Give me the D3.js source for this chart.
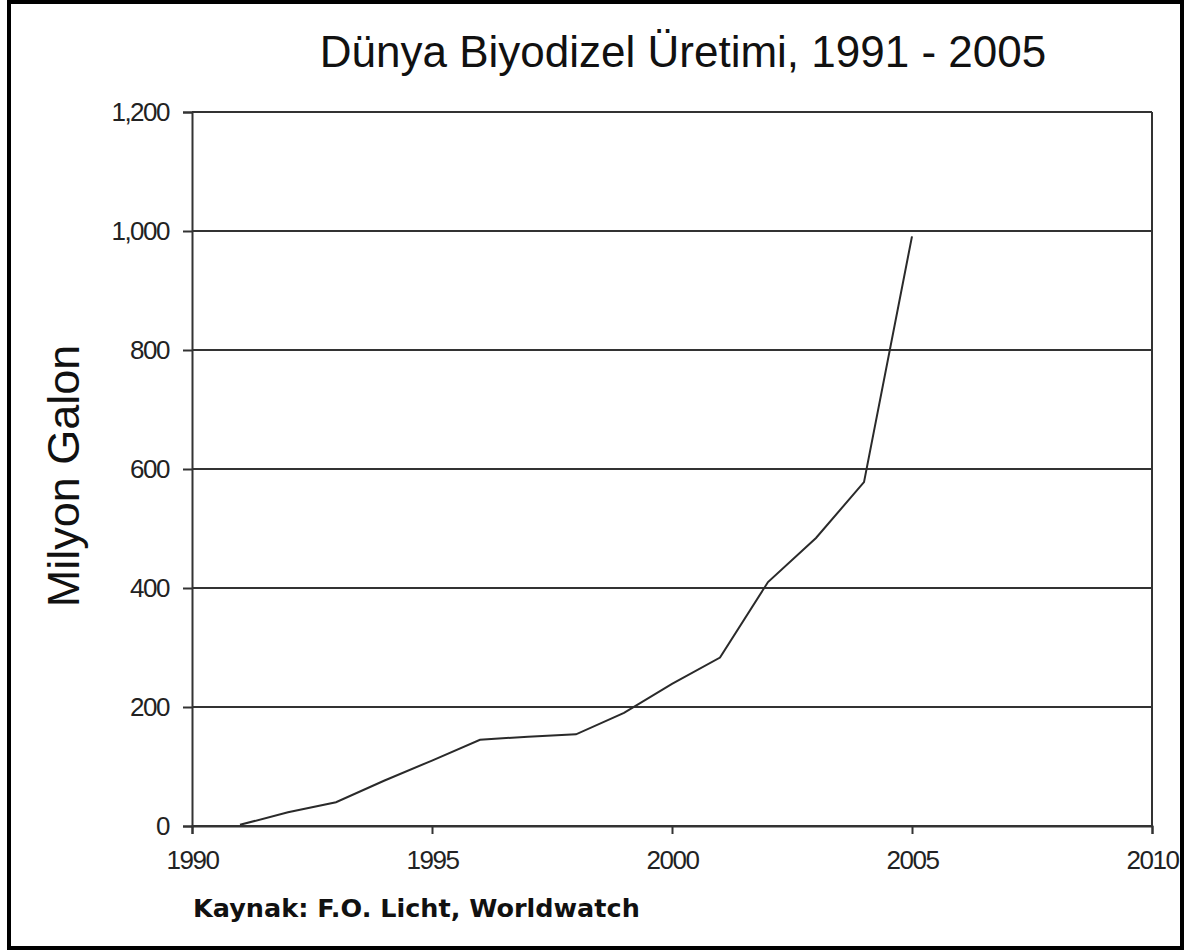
<!DOCTYPE html>
<html>
<head>
<meta charset="utf-8">
<script src="https://cdn.jsdelivr.net/npm/d3@7"></script>
<style>
  body { margin: 0; background: #fff; }
  svg { display: block; }
</style>
</head>
<body>
<div id="chart"></div>
<script>
// data (million gallons)
const years = [1991, 1992, 1993, 1994, 1995, 1996, 1997, 1998, 1999, 2000, 2001, 2002, 2003, 2004, 2005];
const production = [2, 23, 40, 76, 110, 145, 150, 154, 190, 239, 283, 410, 484, 578, 991];
const xTicks = [1990, 1995, 2000, 2005, 2010];
const yTicks = [0, 200, 400, 600, 800, 1000, 1200];

const width = 1184, height = 950;
const margin = { top: 112, right: 32, bottom: 124, left: 192 };

const svg = d3.select("#chart")
  .append("svg")
  .attr("width", width)
  .attr("height", height);

// outer frame
svg.append("rect")
  .attr("x", 9).attr("y", 2)
  .attr("width", 1173).attr("height", 946)
  .attr("fill", "#fff")
  .attr("stroke", "#000")
  .attr("stroke-width", 4);

const x = d3.scaleLinear()
  .domain([1990, 2010])
  .range([margin.left, width - margin.right]);

const y = d3.scaleLinear()
  .domain([0, 1200])
  .range([height - margin.bottom, margin.top]);

// gridlines
svg.append("g")
  .selectAll("line")
  .data(yTicks)
  .join("line")
  .attr("x1", x(1990)).attr("x2", x(2010))
  .attr("y1", d => y(d)).attr("y2", d => y(d))
  .attr("stroke", "#333")
  .attr("stroke-width", 2);

// right border of the plot
svg.append("line")
  .attr("x1", x(2010)).attr("x2", x(2010))
  .attr("y1", y(0)).attr("y2", y(1200))
  .attr("stroke", "#333").attr("stroke-width", 2);

const yAxis = svg.append("g")
  .attr("transform", `translate(${x(1990)},0)`)
  .call(d3.axisLeft(y).tickValues(yTicks).tickSize(9).tickPadding(14)
    .tickFormat(d3.format(",")));

const xAxis = svg.append("g")
  .attr("transform", `translate(0,${y(0)})`)
  .call(d3.axisBottom(x).tickValues(xTicks).tickSize(8).tickPadding(17)
    .tickFormat(d3.format("d")));

[yAxis, xAxis].forEach(g => {
  g.select(".domain").attr("stroke", "#333").attr("stroke-width", 2);
  g.selectAll(".tick line").attr("stroke", "#333").attr("stroke-width", 2);
  g.selectAll("text")
    .attr("fill", "#222")
    .style("font-family", "'Liberation Sans', Arial, sans-serif")
    .style("font-size", "26px")
    .style("letter-spacing", "-1.5px");
});

// series line
const line = d3.line()
  .x((d, i) => x(years[i]))
  .y(d => y(d));

svg.append("path")
  .datum(production)
  .attr("fill", "none")
  .attr("stroke", "#2a2a2a")
  .attr("stroke-width", 2)
  .attr("d", line);

// title
svg.append("text")
  .attr("x", 683).attr("y", 67)
  .attr("text-anchor", "middle")
  .style("font-family", "'Liberation Sans', Arial, sans-serif")
  .style("font-size", "44px")
  .attr("fill", "#111")
  .text("Dünya Biyodizel Üretimi, 1991 - 2005");

// y label
svg.append("text")
  .attr("transform", "translate(79,476) rotate(-90)")
  .attr("text-anchor", "middle")
  .style("font-family", "'Liberation Sans', Arial, sans-serif")
  .style("font-size", "45px")
  .attr("fill", "#111")
  .text("Milyon Galon");

// source
svg.append("text")
  .attr("x", 193).attr("y", 917)
  .style("font-family", "'DejaVu Sans', Verdana, sans-serif")
  .style("font-size", "25.5px")
  .style("font-weight", "bold")
  .attr("fill", "#111")
  .text("Kaynak: F.O. Licht, Worldwatch");
</script>
</body>
</html>
